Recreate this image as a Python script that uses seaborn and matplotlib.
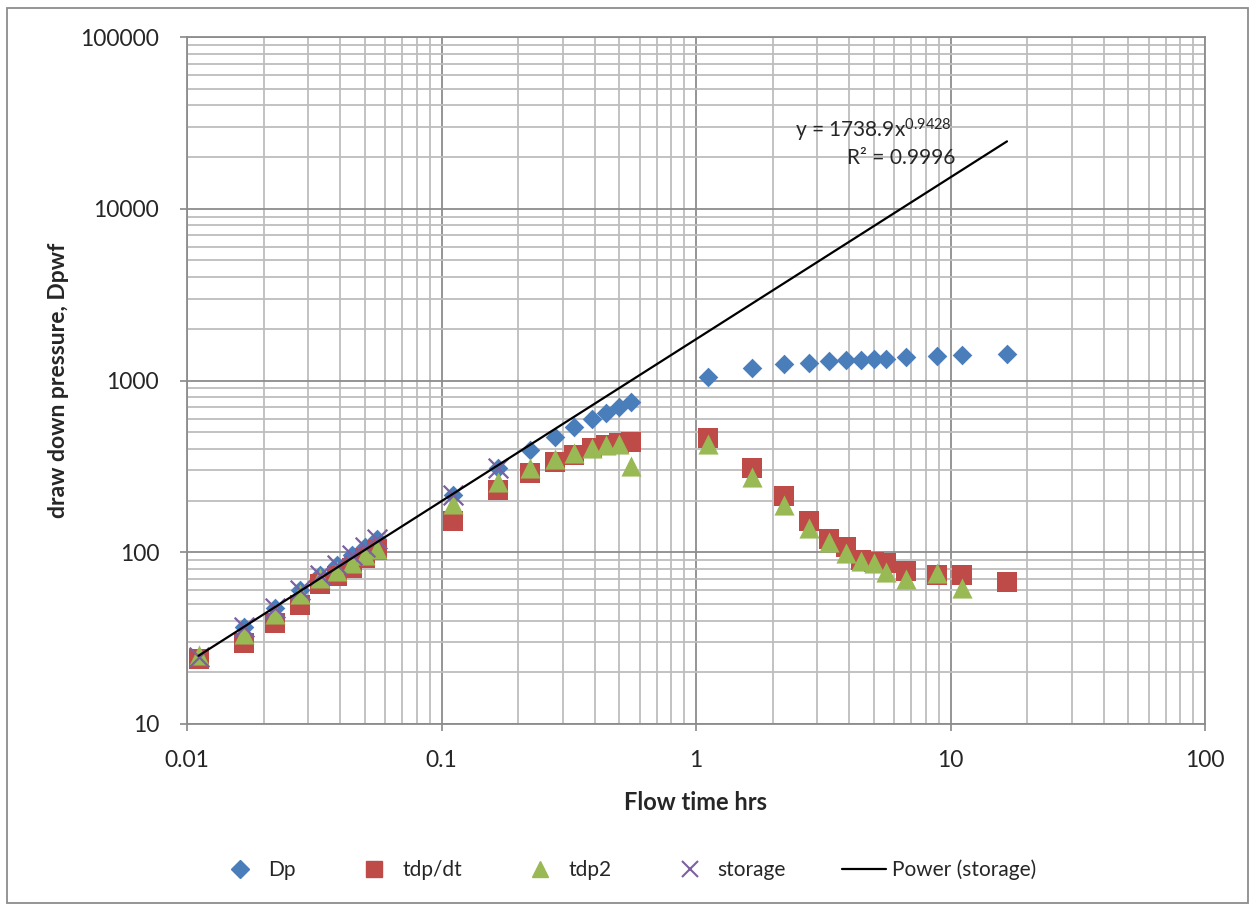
import numpy as np
import pandas as pd
import matplotlib
matplotlib.use("Agg")
import matplotlib.pyplot as plt
import seaborn as sns
from matplotlib.patches import Rectangle
from matplotlib.lines import Line2D

# ---------------- data ----------------
flow_time = [0.0111, 0.0167, 0.0222, 0.0278, 0.0333, 0.0389, 0.0444, 0.05, 0.0556,
             0.111, 0.167, 0.222, 0.278, 0.333, 0.389, 0.444, 0.5, 0.556,
             1.111, 1.667, 2.222, 2.778, 3.333, 3.889, 4.444, 5.0, 5.556,
             6.667, 8.889, 11.11, 16.67]

dp = [24.7, 36.6, 47.5, 60.5, 73.5, 84, 96, 107, 119,
      216, 310, 394, 467, 538, 594, 649, 704, 750,
      1052, 1178, 1242, 1270, 1299, 1315, 1325, 1330, 1335,
      1365, 1389, 1402, 1421]

tdp_dt = [23.8, 29.7, 38.9, 49.3, 65, 73, 81, 93, 103,
          152, 230, 290, 337, 368, 403, 421, 434, 438,
          461, 311, 213, 152, 120, 107, 90, 88, 86,
          77.8, 73.7, 73.7, 67.4]

tdp2_time = flow_time[:30]
tdp2 = [25.2, 33.5, 43.5, 57.5, 71, 78, 86, 97, 105,
        191, 258, 308, 348, 380, 403, 421, 428, 318,
        427, 275, 188, 139, 115, 98.6, 88.9, 86, 77,
        69.6, 75.3, 61.7]

storage_time = flow_time[:11]
storage = dp[:11]

fit_coef = 1738.9
fit_exp = 0.9428
fit_r2 = 0.9996

x_ticks = [0.01, 0.1, 1, 10, 100]
x_tick_labels = ["0.01", "0.1", "1", "10", "100"]
y_ticks = [10, 100, 1000, 10000, 100000]
y_tick_labels = ["10", "100", "1000", "10000", "100000"]

# ---------------- style ----------------
sns.set_theme(style="white")
plt.rcParams['font.family'] = ['Lato', 'DejaVu Sans']
plt.rcParams['mathtext.fontset'] = 'custom'
plt.rcParams['mathtext.rm'] = 'Lato'
plt.rcParams['mathtext.it'] = 'Lato:italic'

c_blue = "#4A7EBB"
c_red = "#BE4B48"
c_green = "#98B954"
c_purple = "#7D60A0"

fig = plt.figure(figsize=(12.55, 9.06), dpi=100)
ax = fig.add_axes([187/1255, 1-724/906, (1205-187)/1255, (724-37)/906])

df_dp = pd.DataFrame({"t": flow_time, "v": dp})
df_red = pd.DataFrame({"t": flow_time, "v": tdp_dt})
df_green = pd.DataFrame({"t": tdp2_time, "v": tdp2})
df_st = pd.DataFrame({"t": storage_time, "v": storage})

sns.scatterplot(data=df_dp, x="t", y="v", marker="D", s=100, color=c_blue,
                linewidth=0, ax=ax, zorder=3)
sns.scatterplot(data=df_red, x="t", y="v", marker="s", s=200, color=c_red,
                linewidth=0, ax=ax, zorder=4)
sns.scatterplot(data=df_green, x="t", y="v", marker="^", s=210, color=c_green,
                linewidth=0, ax=ax, zorder=5)
sns.scatterplot(data=df_st, x="t", y="v", marker="x", s=200, color=c_purple,
                linewidth=1.6, ax=ax, zorder=6)

# power trendline through the storage points, over the span of the data
t_line = np.geomspace(storage_time[0], flow_time[-1], 200)
df_line = pd.DataFrame({"t": t_line, "v": fit_coef * t_line ** fit_exp})
sns.lineplot(data=df_line, x="t", y="v", color="black", linewidth=1.6, ax=ax, zorder=7)

ax.set_xscale("log")
ax.set_yscale("log")
ax.set_xlim(0.01, 100)
ax.set_ylim(10, 100000)
ax.set_xticks(x_ticks)
ax.set_xticklabels(x_tick_labels)
ax.set_yticks(y_ticks)
ax.set_yticklabels(y_tick_labels)

ax.grid(True, which="major", color="#8C8C8C", linewidth=1.3, zorder=0)
ax.grid(True, which="minor", color="#BDBDBD", linewidth=1.3, zorder=0)
ax.set_axisbelow(True)
for s in ax.spines.values():
    s.set_color("#8C8C8C")
    s.set_linewidth(1.3)

ax.tick_params(axis="both", which="major", labelsize=16.5, length=5, color="#8C8C8C",
               direction="out", bottom=True, left=True)
ax.tick_params(axis="y", which="major", pad=15)
ax.tick_params(axis="x", which="major", pad=14)
ax.tick_params(axis="both", which="minor", length=0)

ax.set_xlabel("Flow time hrs", fontsize=17, fontweight="bold", labelpad=14)
ax.set_ylabel("draw down pressure, Dpwf", fontsize=16.5, fontweight="bold", labelpad=8)

ax.text((952-187)/1018, (724-130)/687, r"y = 1738.9x$^{\mathrm{0.9428}}$",
        transform=ax.transAxes, ha="right", va="center", fontsize=15, zorder=8)
ax.text((955-187)/1018, (724-158)/687, f"R² = {fit_r2}",
        transform=ax.transAxes, ha="right", va="center", fontsize=15, zorder=8)

handles = [
    Line2D([], [], marker="D", color=c_blue, linestyle="none", markersize=9),
    Line2D([], [], marker="s", color=c_red, linestyle="none", markersize=11),
    Line2D([], [], marker="^", color=c_green, linestyle="none", markersize=12),
    Line2D([], [], marker="x", color=c_purple, linestyle="none", markersize=11, markeredgewidth=1.5),
    Line2D([], [], color="black", linewidth=1.6),
]
labels = ["Dp", "tdp/dt", "tdp2", "storage", "Power (storage)"]
fig.legend(handles, labels, loc="center", bbox_to_anchor=(0.5, 1-870/906), ncol=5,
           frameon=False, fontsize=15, columnspacing=2.7, handletextpad=0.3,
           handlelength=2.1)

fig.patches.append(Rectangle((7/1255, 1-903/906), 1241/1255, 895/906,
                             transform=fig.transFigure, fill=False,
                             edgecolor="#8C8C8C", linewidth=1.3))

fig.savefig("out.png", dpi=100, facecolor="white")
